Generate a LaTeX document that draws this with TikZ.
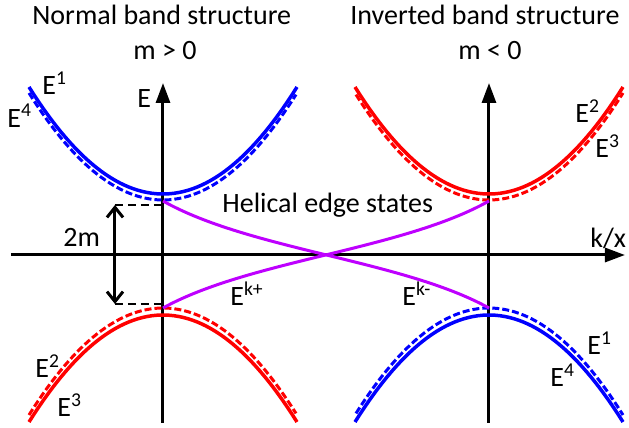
\documentclass[tikz,border=0pt]{standalone}
\usepackage{fontspec}
\setmainfont{Carlito}
\usetikzlibrary{arrows.meta}

\definecolor{bandblue}{RGB}{0,0,255}
\definecolor{bandred}{RGB}{255,0,0}
\definecolor{edgepurple}{RGB}{190,0,255}

\begin{document}
\begin{tikzpicture}[x=0.5pt, y=-0.5pt,
  axis/.style={line width=1.5pt, -{Triangle[length=10pt,width=7pt]}},
  band/.style={line width=1.75pt},
  bandd/.style={line width=1.5pt, dash pattern=on 3.5pt off 1.5pt},
  edge/.style={line width=1.5pt, edgepurple},
  guide/.style={line width=1pt, dash pattern=on 4pt off 2.5pt},
  gap/.style={line width=1.5pt, {Straight Barb[length=5pt,width=8pt]}-{Straight Barb[length=5pt,width=8pt]}},
  lbl/.style={font=\fontsize{14}{16}\selectfont, inner sep=0pt, anchor=base west},
  declare function={par(\u)=0.596*(\u/10)^2;}
]
  \useasboundingbox (0,0) rectangle (629,428);

  % axes
  \coordinate (kL) at (11,255);
  \coordinate (kR) at (625,255);
  \coordinate (eLb) at (163,423);
  \coordinate (eLt) at (163,83);
  \coordinate (eRb) at (489,423);
  \coordinate (eRt) at (489,83);
  \draw[axis] (kL) -- (kR);
  \draw[axis] (eLb) -- (eLt);
  \draw[axis] (eRb) -- (eRt);

  % normal bands (m > 0)
  \draw[band, bandblue] plot[domain=-134:134, samples=60] ({163+\x},{194-par(\x)});
  \draw[bandd, bandblue] plot[domain=-134:133, samples=60] ({163+\x},{200-par(\x)});
  \draw[band, bandred] plot[domain=-134:134, samples=60] ({163+\x},{315+par(\x)});
  \draw[bandd, bandred] plot[domain=-134:133, samples=60] ({163+\x},{308+par(\x)});

  % inverted bands (m < 0)
  \draw[band, bandred] plot[domain=-134:134, samples=60] ({489+\x},{194-par(\x)});
  \draw[bandd, bandred] plot[domain=-133:134, samples=60] ({489+\x},{200-par(\x)});
  \draw[band, bandblue] plot[domain=-134:134, samples=60] ({489+\x},{315+par(\x)});
  \draw[bandd, bandblue] plot[domain=-133:134, samples=60] ({489+\x},{308+par(\x)});

  % helical edge states
  \coordinate (hLt) at (163,201);
  \coordinate (hLb) at (163,308);
  \coordinate (hRt) at (489,201);
  \coordinate (hRb) at (489,308);
  \draw[edge] (hLt) .. controls (250,250) and (402,260) .. (hRb);
  \draw[edge] (hLb) .. controls (250,260) and (402,250) .. (hRt);

  % gap 2m
  \coordinate (gT) at (115,205);
  \coordinate (gB) at (115,304);
  \coordinate (gTa) at (163,205);
  \coordinate (gBa) at (163,304);
  \draw[guide] (gT) -- (gTa);
  \draw[guide] (gB) -- (gBa);
  \draw[gap] (gT) -- (gB);

  % labels
  \node[lbl] (titleN) at (32,25) {Normal band structure};
  \node[lbl] (massN) at (133,60) {m > 0};
  \node[lbl] (titleI) at (350,25) {Inverted band structure};
  \node[lbl] (massI) at (458,60) {m < 0};
  \node[lbl] (eaxis) at (137,108) {E};
  \node[lbl] (kaxis) at (590,248) {k/x};
  \node[lbl] (gaplbl) at (63,247) {2m};
  \node[lbl] (helical) at (222,213) {Helical edge states};
  \node[lbl] (ekp) at (230,306) {E\textsuperscript{k+}};
  \node[lbl] (ekm) at (402,306) {E\textsuperscript{k-}};
  \node[lbl] (eNa) at (42,95) {E\textsuperscript{1}};
  \node[lbl] (eNb) at (7,127) {E\textsuperscript{4}};
  \node[lbl] (eNc) at (35,378) {E\textsuperscript{2}};
  \node[lbl] (eNd) at (57,417) {E\textsuperscript{3}};
  \node[lbl] (eIa) at (575,123) {E\textsuperscript{2}};
  \node[lbl] (eIb) at (595,158) {E\textsuperscript{3}};
  \node[lbl] (eIc) at (587,355) {E\textsuperscript{1}};
  \node[lbl] (eId) at (550,387) {E\textsuperscript{4}};
\end{tikzpicture}
\end{document}
